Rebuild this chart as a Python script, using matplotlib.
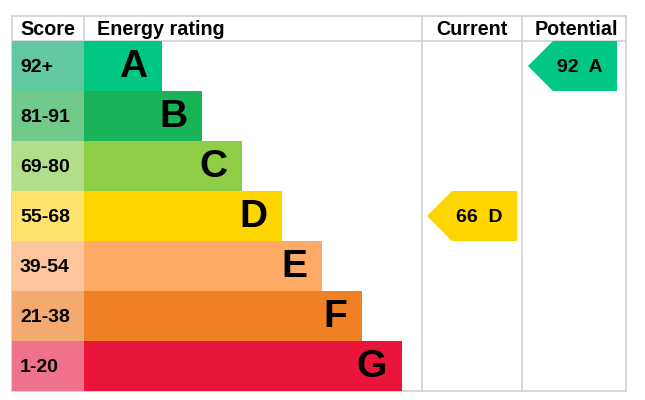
"""EPC energy rating chart: current 66 D, potential 92 A."""
import matplotlib
matplotlib.use('Agg')
import matplotlib.pyplot as plt
from matplotlib.patches import Rectangle, Polygon

plt.rcParams['font.family'] = ['Liberation Sans', 'DejaVu Sans']

bands = ['A', 'B', 'C', 'D', 'E', 'F', 'G']
ranges = ['92+', '81-91', '69-80', '55-68', '39-54', '21-38', '1-20']
lows = [92, 81, 69, 55, 39, 21, 1]
band_cols = ['#00c781', '#19b459', '#8dce46', '#ffd500', '#fcaa65', '#ef8023', '#e9153b']
tint_cols = ['#62c8a2', '#72c98c', '#b3dd8a', '#ffe36e', '#fdc59c', '#f2aa6e', '#f0718b']
current = 66
potential = 92
headers = ['Score', 'Energy rating', 'Current', 'Potential']


def band_of(v):
    for i, lo in enumerate(lows):
        if v >= lo:
            return i
    return len(lows) - 1


# layout in pixels
L, T, R, B = 12, 16, 626, 391
HDR = 41
ROW = 50
X_SCORE, X_CUR, X_POT = 84, 422, 522
BAR0, BAR_STEP = 78, 40
GRID = '#d4d4d4'

fig = plt.figure(figsize=(6.45, 4.0), dpi=100)
ax = fig.add_axes([0, 0, 1, 1])
ax.set_xlim(0, 645); ax.set_ylim(400, 0); ax.axis('off')

# grid lines
for x in (L, X_SCORE, X_CUR, X_POT, R):
    ax.plot([x, x], [T, B], color=GRID, lw=1.3, zorder=1)
for y in (T, HDR, B):
    ax.plot([L, R], [y, y], color=GRID, lw=1.3, zorder=1)

# headers
hy = (T + HDR) / 2 + 1
ax.text(20, hy, headers[0], ha='left', va='center', fontsize=14.2, fontweight='bold')
ax.text(97, hy, headers[1], ha='left', va='center', fontsize=14.2, fontweight='bold')
ax.text((X_CUR + X_POT) / 2, hy, headers[2], ha='center', va='center', fontsize=14.2, fontweight='bold')
ax.text((X_POT + R) / 2 + 2, hy, headers[3], ha='center', va='center', fontsize=14.2, fontweight='bold')

# bands
for i, (b, rg) in enumerate(zip(bands, ranges)):
    y0 = HDR + i * ROW
    yc = y0 + ROW / 2
    ax.add_patch(Rectangle((L, y0), X_SCORE - L, ROW, color=tint_cols[i], lw=0, zorder=2))
    w = BAR0 + BAR_STEP * i
    ax.add_patch(Rectangle((X_SCORE, y0), w, ROW, color=band_cols[i], lw=0, zorder=2))
    ax.text(20, yc + 1, rg, ha='left', va='center', fontsize=14, fontweight='bold', zorder=3)
    ax.text(X_SCORE + w - 15, yc + 1, b, ha='right', va='center', fontsize=28, fontweight='bold', zorder=3)


def arrow(x_left, x_right, val):
    i = band_of(val)
    y0 = HDR + i * ROW
    yc = y0 + ROW / 2
    tip = x_left + 6
    pts = [(tip, yc), (tip + 25, y0), (x_right, y0), (x_right, y0 + ROW), (tip + 25, y0 + ROW)]
    ax.add_patch(Polygon(pts, closed=True, color=band_cols[i], lw=0, zorder=2))
    ax.text(tip + 52, yc + 1, f'{val}  {bands[i]}', ha='center', va='center',
            fontsize=14, fontweight='bold', zorder=3)


arrow(X_CUR - 1, X_POT - 5, current)
arrow(X_POT, R - 9, potential)

fig.savefig('out.png', dpi=100)
